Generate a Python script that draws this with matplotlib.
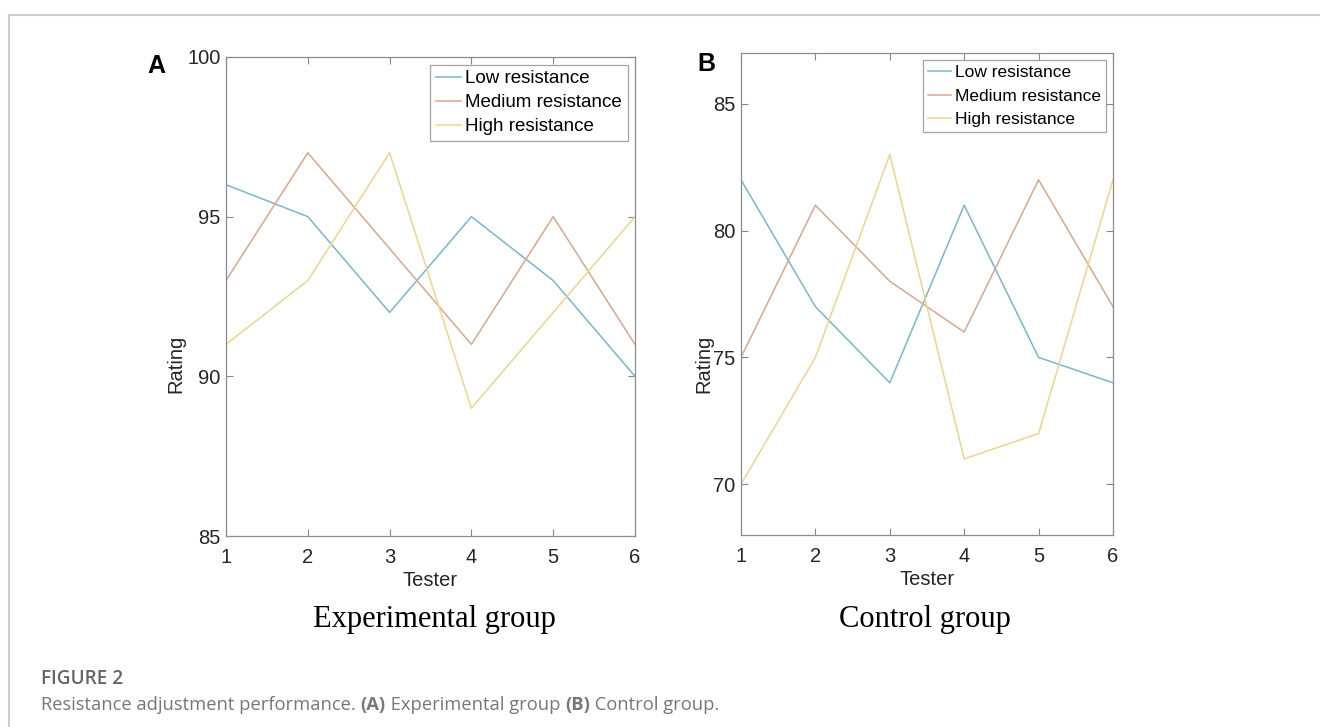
import matplotlib
matplotlib.use('Agg')
import matplotlib.pyplot as plt
from matplotlib.lines import Line2D

# data
testers = [1, 2, 3, 4, 5, 6]
series_names = ['Low resistance', 'Medium resistance', 'High resistance']

exp_low = [96, 95, 92, 95, 93, 90]
exp_medium = [93, 97, 94, 91, 95, 91]
exp_high = [91, 93, 97, 89, 92, 95]

ctrl_low = [82, 77, 74, 81, 75, 74]
ctrl_medium = [75, 81, 78, 76, 82, 77]
ctrl_high = [70, 75, 83, 71, 72, 82]

colors = ['#76b7d2', '#dca68c', '#efd58b']

plt.rcParams['font.family'] = ['Liberation Sans', 'DejaVu Sans']

fig = plt.figure(figsize=(13.2, 7.27), dpi=100)

# page frame lines (top and left)
fig.add_artist(Line2D([9 / 1320, 1], [1 - 15 / 727] * 2, color='#cccccc', lw=1.5))
fig.add_artist(Line2D([9 / 1320] * 2, [0, 1 - 15 / 727], color='#cccccc', lw=1.5))


def draw_panel(rect, series, ylim, yticks, letter, letter_xy, subtitle, sub_x, rating_x,
               leg_size, leg_space):
    ax = fig.add_axes(rect)
    for vals, name, c in zip(series, series_names, colors):
        ax.plot(testers, vals, color=c, lw=1.1, label=name)
    ax.set_xlim(1, 6)
    ax.set_ylim(*ylim)
    ax.set_xticks(testers)
    ax.set_yticks(yticks)
    ax.tick_params(direction='in', top=True, right=True, length=5, width=0.8,
                   color='#888888', labelsize=14.5, labelcolor='#262626')
    ax.tick_params(axis='x', pad=8.5)
    ax.tick_params(axis='y', pad=4)
    for s in ax.spines.values():
        s.set_color('#8c8c8c')
        s.set_linewidth(0.9)
    ax.set_xlabel('Tester', fontsize=14.5, color='#262626', labelpad=3)
    ax.set_ylabel('Rating', fontsize=14.5, color='#262626')
    ax.yaxis.set_label_coords(rating_x, 0.5, transform=fig.transFigure)
    leg = ax.legend(loc='upper right', fontsize=leg_size, frameon=True, fancybox=False,
                    handlelength=1.35, handletextpad=0.2, borderpad=0.3,
                    labelspacing=leg_space, borderaxespad=0.4)
    leg.get_frame().set_edgecolor('#8c8c8c')
    leg.get_frame().set_linewidth(0.9)
    fig.text(letter_xy[0], letter_xy[1], letter, fontsize=18, fontweight='bold',
             ha='left', va='center')
    fig.text(sub_x, 1 - 627 / 727, subtitle, fontsize=22, ha='center', va='baseline',
             family=['Liberation Serif', 'DejaVu Serif'])
    return ax


draw_panel([226 / 1320, 1 - 536 / 727, 409 / 1320, 479 / 727],
           [exp_low, exp_medium, exp_high], (85, 100), [85, 90, 95, 100],
           'A', (147 / 1320, 1 - 66 / 727), 'Experimental group', 434 / 1320, 185 / 1320,
           13.5, 0.37)

draw_panel([741 / 1320, 1 - 535 / 727, 372 / 1320, 482 / 727],
           [ctrl_low, ctrl_medium, ctrl_high], (68, 87), [70, 75, 80, 85],
           'B', (697 / 1320, 1 - 64 / 727), 'Control group', 925 / 1320, 713 / 1320,
           12.5, 0.48)

# caption
fig.text(41 / 1320, 1 - 679 / 727, 'FIGURE 2', fontsize=13.7, fontweight='semibold',
         color='#666666', ha='left', va='center', family=['Open Sans', 'DejaVu Sans'])
cap = [('Resistance adjustment performance. ', 'normal'), ('(A)', 'bold'),
       (' Experimental group ', 'normal'), ('(B)', 'bold'), (' Control group.', 'normal')]
x = 41 / 1320
renderer = fig.canvas.get_renderer()
for txt, wt in cap:
    t = fig.text(x, 1 - 705 / 727, txt, fontsize=13.2, fontweight=wt, color='#777777',
                 ha='left', va='center', family=['Open Sans', 'DejaVu Sans'])
    bb = t.get_window_extent(renderer=renderer)
    x += bb.width / fig.bbox.width

fig.savefig('out.png', dpi=100)
